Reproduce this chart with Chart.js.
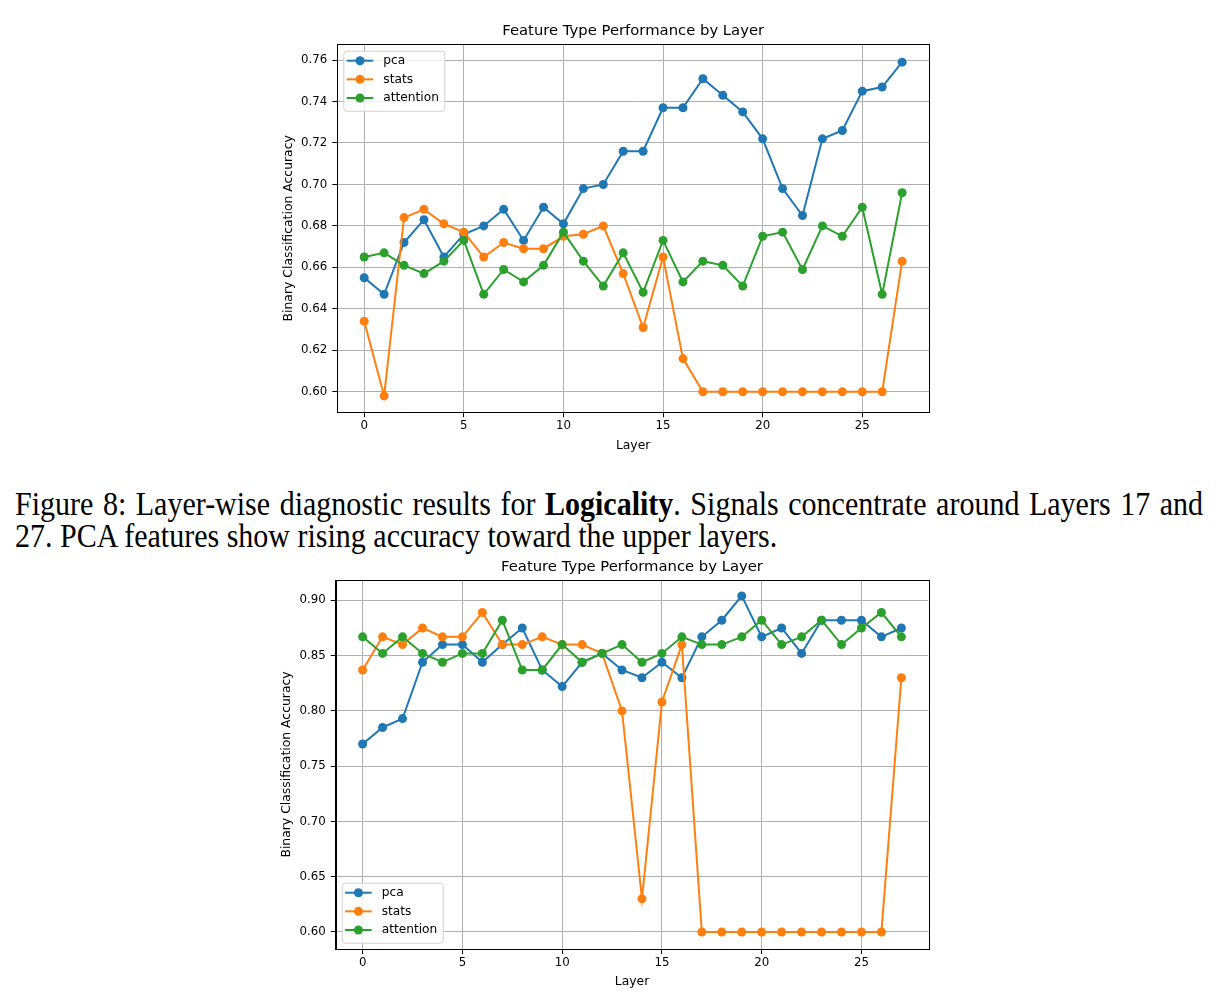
<!DOCTYPE html>
<html>
<head>
<meta charset="utf-8">
<title>Feature Type Performance by Layer</title>
<script src="https://cdn.jsdelivr.net/npm/chart.js@4.4.1/dist/chart.umd.min.js"></script>
<style>
  html, body { margin: 0; padding: 0; background: #fff; }
  body { width: 1219px; height: 1005px; position: relative; overflow: hidden; }
  canvas { position: absolute; left: 0; }
  #chart-top { top: 0; }
  #chart-bottom { top: 555px; }
  .caption {
    position: absolute; left: 15px; top: 488.3px; width: 1188px;
    font-family: "Liberation Serif", "Times New Roman", serif;
    font-size: 30px; line-height: 28.3px; color: #000;
    transform: scaleY(1.14); transform-origin: 0 0;
  }
  .caption .l1 { text-align: justify; text-align-last: justify; }
</style>
</head>
<body>
<canvas id="chart-top" width="1219" height="480"></canvas>
<div class="caption">
  <div class="l1">Figure 8: Layer-wise diagnostic results for <b>Logicality</b>. Signals concentrate around Layers 17 and</div>
  <div>27. PCA features show rising accuracy toward the upper layers.</div>
</div>
<canvas id="chart-bottom" width="1219" height="450"></canvas>
<script>
// Дані: шари та точність по типах ознак
const layers = [0, 1, 2, 3, 4, 5, 6, 7, 8, 9, 10, 11, 12, 13, 14, 15, 16, 17, 18, 19, 20, 21, 22, 23, 24, 25, 26, 27];
const seriesNames = ["pca", "stats", "attention"];
const xTicks = [0, 5, 10, 15, 20, 25];

// верхній графік
const pcaTop = [0.655, 0.647, 0.672, 0.683, 0.665, 0.676, 0.680, 0.688, 0.673, 0.689, 0.681, 0.698, 0.700, 0.716,
  0.716, 0.737, 0.737, 0.751, 0.743, 0.735, 0.722, 0.698, 0.685, 0.722, 0.726, 0.745, 0.747, 0.759];
const statsTop = [0.634, 0.598, 0.684, 0.688, 0.681, 0.677, 0.665, 0.672, 0.669, 0.669, 0.675, 0.676, 0.680, 0.657,
  0.631, 0.665, 0.616, 0.600, 0.600, 0.600, 0.600, 0.600, 0.600, 0.600, 0.600, 0.600, 0.600, 0.663];
const attentionTop = [0.665, 0.667, 0.661, 0.657, 0.663, 0.673, 0.647, 0.659, 0.653, 0.661, 0.677, 0.663, 0.651, 0.667,
  0.648, 0.673, 0.653, 0.663, 0.661, 0.651, 0.675, 0.677, 0.659, 0.680, 0.675, 0.689, 0.647, 0.696];
const yTicksTop = [0.60, 0.62, 0.64, 0.66, 0.68, 0.70, 0.72, 0.74, 0.76];

// нижній графік
const pcaBottom = [0.770, 0.785, 0.793, 0.844, 0.860, 0.860, 0.844, 0.860, 0.875, 0.837, 0.822, 0.844, 0.852, 0.837,
  0.830, 0.844, 0.830, 0.867, 0.882, 0.904, 0.867, 0.875, 0.852, 0.882, 0.882, 0.882, 0.867, 0.875];
const statsBottom = [0.837, 0.867, 0.860, 0.875, 0.867, 0.867, 0.889, 0.860, 0.860, 0.867, 0.860, 0.860, 0.852, 0.800,
  0.630, 0.808, 0.860, 0.600, 0.600, 0.600, 0.600, 0.600, 0.600, 0.600, 0.600, 0.600, 0.600, 0.830];
const attentionBottom = [0.867, 0.852, 0.867, 0.852, 0.844, 0.852, 0.852, 0.882, 0.837, 0.837, 0.860, 0.844, 0.852, 0.860,
  0.844, 0.852, 0.867, 0.860, 0.860, 0.867, 0.882, 0.860, 0.867, 0.882, 0.860, 0.875, 0.889, 0.867];
const yTicksBottom = [0.60, 0.65, 0.70, 0.75, 0.80, 0.85, 0.90];

const colors = ["#1f77b4", "#ff7f0e", "#2ca02c"];
const tickFont = { family: "DejaVu Sans", size: 11.8 };
const labelFont = { family: "DejaVu Sans", size: 12.4 };

// рамка осей + легенда всередині області графіка (як у matplotlib)
const frameAndLegend = {
  id: "frameAndLegend",
  afterDraw(chart, args, opts) {
    const { ctx, chartArea: a } = chart;
    ctx.save();
    ctx.strokeStyle = "#000";
    ctx.lineWidth = 1;
    ctx.strokeRect(Math.round(a.left) + 0.5, Math.round(a.top) + 0.5,
      Math.round(a.right - a.left), Math.round(a.bottom - a.top));

    const w = 101, h = 60;
    const x = a.left + 6;
    const y = opts.corner === "lower left" ? a.bottom - 6.3 - h : a.top + 6.4;
    ctx.beginPath();
    ctx.roundRect(x + 0.5, y + 0.5, w, h, 3);
    ctx.fillStyle = "rgba(255,255,255,0.8)";
    ctx.fill();
    ctx.strokeStyle = "#d0d0d0";
    ctx.stroke();

    chart.data.datasets.forEach((ds, i) => {
      const cy = y + 10 + i * 18.65;
      ctx.strokeStyle = ds.borderColor;
      ctx.lineWidth = 2;
      ctx.beginPath();
      ctx.moveTo(x + 3.4, cy);
      ctx.lineTo(x + 30, cy);
      ctx.stroke();
      ctx.fillStyle = ds.borderColor;
      ctx.beginPath();
      ctx.arc(x + 16.7, cy, 4.5, 0, Math.PI * 2);
      ctx.fill();
      ctx.fillStyle = "#000";
      ctx.font = '12.2px "DejaVu Sans"';
      ctx.textAlign = "left";
      ctx.textBaseline = "middle";
      ctx.fillText(ds.label, x + 40, cy);
    });
    ctx.restore();
  },
};

function makeChart(id, pca, stats, attention, yMin, yMax, yTicks, geo) {
  const values = [pca, stats, attention];
  const datasets = values.map((vals, i) => ({
    label: seriesNames[i],
    data: vals.map((v, j) => ({ x: layers[j], y: v })),
    borderColor: colors[i],
    backgroundColor: colors[i],
    pointBackgroundColor: colors[i],
    pointBorderWidth: 0,
    pointRadius: 4.5,
    borderWidth: 2,
    tension: 0,
    order: 3 - i, // attention поверх усіх, як у matplotlib
  }));

  return new Chart(document.getElementById(id), {
    type: "line",
    data: { datasets },
    plugins: [frameAndLegend],
    options: {
      responsive: false,
      animation: false,
      devicePixelRatio: 1,
      layout: { padding: { left: 0, right: geo.right, top: 0, bottom: 0 } },
      plugins: {
        legend: { display: false },
        tooltip: { enabled: false },
        title: {
          display: true,
          fullSize: false,
          text: "Feature Type Performance by Layer",
          color: "#000",
          font: { family: "DejaVu Sans", size: 14.8, weight: "normal" },
          padding: { top: geo.titleTop, bottom: geo.titleBottom },
        },
        frameAndLegend: { corner: geo.corner },
      },
      scales: {
        x: {
          type: "linear",
          min: -1.35,
          max: 28.35,
          afterBuildTicks: (s) => { s.ticks = xTicks.map((v) => ({ value: v })); },
          afterFit: (s) => { s.height = geo.xHeight; },
          grid: { color: "#b0b0b0", lineWidth: 1, tickColor: "#000", tickLength: 5 },
          border: { display: true, color: "#000", width: 1 },
          ticks: { color: "#000", font: tickFont, padding: 2, maxRotation: 0, autoSkip: false },
          title: {
            display: true, text: "Layer", color: "#000", font: labelFont,
            padding: { top: 0, bottom: geo.xTitlePad },
          },
        },
        y: {
          min: yMin,
          max: yMax,
          afterBuildTicks: (s) => { s.ticks = yTicks.map((v) => ({ value: v })); },
          afterFit: (s) => { s.width = geo.yWidth; },
          grid: { color: "#b0b0b0", lineWidth: 1, tickColor: "#000", tickLength: 5 },
          border: { display: true, color: "#000", width: 1 },
          ticks: { color: "#000", font: tickFont, padding: 5, callback: (v) => v.toFixed(2) },
          title: {
            display: true, text: "Binary Classification Accuracy", color: "#000", font: labelFont,
            padding: { top: geo.yTitlePad, bottom: 0 },
          },
        },
      },
    },
  });
}

const topChart = makeChart("chart-top", pcaTop, statsTop, attentionTop, 0.5901, 0.7676, yTicksTop, {
  right: 290, titleTop: 22.6, titleBottom: 3.94, xHeight: 67.7, xTitlePad: 27,
  yWidth: 337.3, yTitlePad: 281.5, corner: "upper left",
});

const bottomChart = makeChart("chart-bottom", pcaBottom, statsBottom, attentionBottom, 0.5846, 0.9184, yTicksBottom, {
  right: 290.7, titleTop: 3.3, titleBottom: 3.94, xHeight: 56, xTitlePad: 15.5,
  yWidth: 335.7, yTitlePad: 279.5, corner: "lower left",
});
</script>
</body>
</html>
